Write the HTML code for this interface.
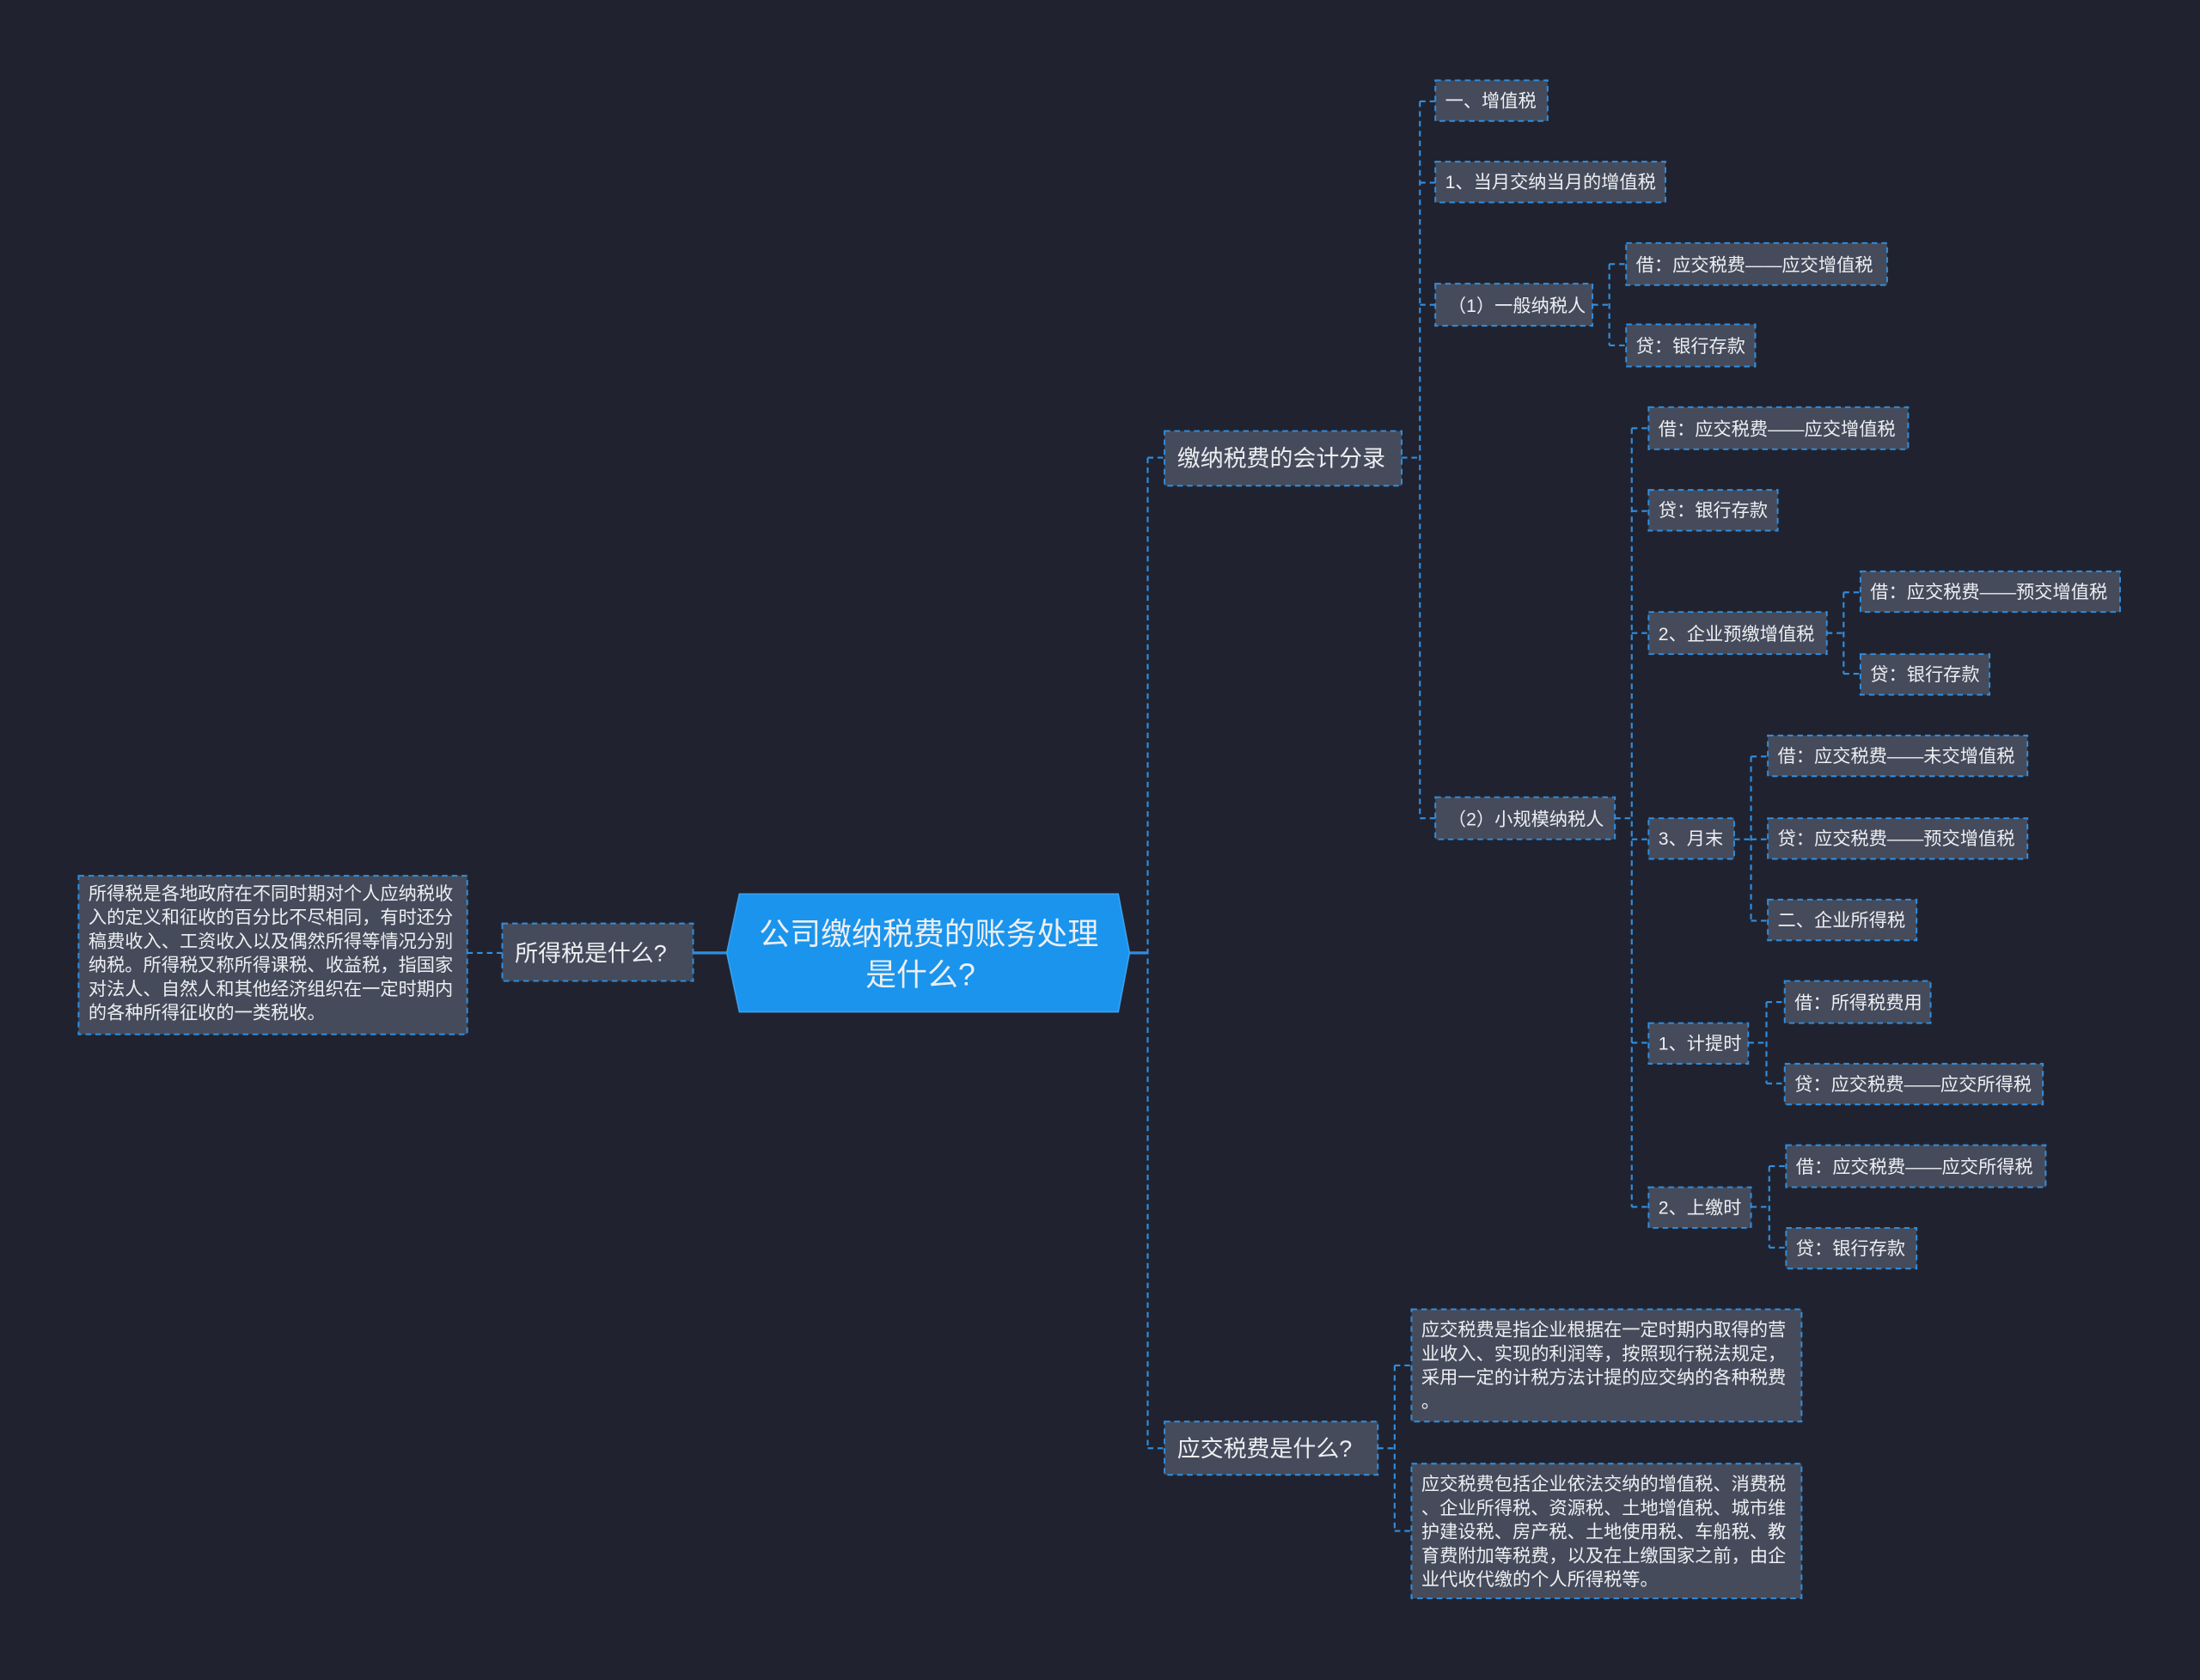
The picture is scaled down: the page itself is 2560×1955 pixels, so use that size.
<!DOCTYPE html>
<html><head><meta charset="utf-8"><style>
html,body{margin:0;padding:0;background:#20232f;}
svg{display:block}
text{font-family:"Liberation Sans","Noto Sans CJK SC",sans-serif;fill:#eceef2;}
.n{fill:#454b5a;stroke:#2f8ee2;stroke-width:1.2;stroke-dasharray:4 3;}
.c{fill:none;stroke:#2f8ee2;stroke-width:1.3;stroke-dasharray:4 3;}
.s{font-size:13px}
.m{font-size:16.5px}
.t{font-size:13px}
</style></head><body>
<svg width="2560" height="1955" viewBox="0 0 1568 1197" xmlns="http://www.w3.org/2000/svg">
<rect width="1568" height="1197" fill="#20232f"/>
<line x1="494" y1="679" x2="518" y2="679" stroke="#2f8ee2" stroke-width="2"/>
<line x1="333" y1="679" x2="358" y2="679" class="c"/>
<line x1="805" y1="679" x2="818" y2="679" stroke="#2f8ee2" stroke-width="2"/>
<path class="c" d="M818 326V1032 M818 326H830 M818 1032H830"/>
<path class="c" d="M999 326H1012 M1012 72V583 M1012 72H1023 M1012 130H1023 M1012 217H1023 M1012 583H1023"/>
<path class="c" d="M1135 217H1147 M1147 188V246 M1147 188H1159 M1147 246H1159"/>
<path class="c" d="M1151 583H1163 M1163 305V860 M1163 305H1175 M1163 364H1175 M1163 451H1175 M1163 598H1175 M1163 743H1175 M1163 860H1175"/>
<path class="c" d="M1302 451H1314 M1314 422V480 M1314 422H1326 M1314 480H1326"/>
<path class="c" d="M1236 598H1248 M1248 539V656 M1248 539H1260 M1248 598H1260 M1248 656H1260"/>
<path class="c" d="M1246 743H1259 M1259 714V772 M1259 714H1272 M1259 772H1272"/>
<path class="c" d="M1248 860H1261 M1261 831V889 M1261 831H1273 M1261 889H1273"/>
<path class="c" d="M982 1032H994 M994 973V1091 M994 973H1006 M994 1091H1006"/>

<polygon points="527,637 797,637 805,679 797,721 527,721 518,679" fill="#1a94ec" stroke="#3aa0f0" stroke-width="1"/>
<text x="662" y="673" text-anchor="middle" style="font-size:22px">公司缴纳税费的账务处理</text>
<text x="656" y="702" text-anchor="middle" style="font-size:22px">是什么?</text>

<rect class="n" x="358" y="658" width="136" height="41"/>
<text class="m" x="367" y="685">所得税是什么?</text>
<rect class="n" x="830" y="307" width="169" height="39"/>
<text class="m" x="839" y="332">缴纳税费的会计分录</text>
<rect class="n" x="830" y="1013" width="152" height="38"/>
<text class="m" x="839" y="1038">应交税费是什么?</text>

<rect class="n" x="56" y="624" width="277" height="113"/>
<text class="t" x="63" y="641">所得税是各地政府在不同时期对个人应纳税收</text>
<text class="t" x="63" y="658">入的定义和征收的百分比不尽相同，有时还分</text>
<text class="t" x="63" y="675">稿费收入、工资收入以及偶然所得等情况分别</text>
<text class="t" x="63" y="692">纳税。所得税又称所得课税、收益税，指国家</text>
<text class="t" x="63" y="709">对法人、自然人和其他经济组织在一定时期内</text>
<text class="t" x="63" y="726">的各种所得征收的一类税收。</text>

<rect class="n" x="1023" y="57" width="80" height="29"/><text class="s" x="1030" y="76">一、增值税</text>
<rect class="n" x="1023" y="115" width="164" height="29"/><text class="s" x="1030" y="134">1、当月交纳当月的增值税</text>
<rect class="n" x="1023" y="202" width="112" height="30"/><text class="s" x="1032" y="222">（1）一般纳税人</text>
<rect class="n" x="1159" y="173" width="186" height="30"/><text class="s" x="1166" y="193">借：应交税费——应交增值税</text>
<rect class="n" x="1159" y="231" width="92" height="30"/><text class="s" x="1166" y="251">贷：银行存款</text>
<rect class="n" x="1023" y="568" width="128" height="30"/><text class="s" x="1032" y="588">（2）小规模纳税人</text>
<rect class="n" x="1175" y="290" width="185" height="30"/><text class="s" x="1182" y="310">借：应交税费——应交增值税</text>
<rect class="n" x="1175" y="349" width="92" height="29"/><text class="s" x="1182" y="368">贷：银行存款</text>
<rect class="n" x="1175" y="436" width="127" height="30"/><text class="s" x="1182" y="456">2、企业预缴增值税</text>
<rect class="n" x="1326" y="407" width="185" height="29"/><text class="s" x="1333" y="426">借：应交税费——预交增值税</text>
<rect class="n" x="1326" y="466" width="92" height="29"/><text class="s" x="1333" y="485">贷：银行存款</text>
<rect class="n" x="1175" y="583" width="61" height="29"/><text class="s" x="1182" y="602">3、月末</text>
<rect class="n" x="1260" y="524" width="185" height="29"/><text class="s" x="1267" y="543">借：应交税费——未交增值税</text>
<rect class="n" x="1260" y="583" width="185" height="29"/><text class="s" x="1267" y="602">贷：应交税费——预交增值税</text>
<rect class="n" x="1260" y="641" width="106" height="29"/><text class="s" x="1267" y="660">二、企业所得税</text>
<rect class="n" x="1175" y="729" width="71" height="29"/><text class="s" x="1182" y="748">1、计提时</text>
<rect class="n" x="1272" y="699" width="104" height="30"/><text class="s" x="1279" y="719">借：所得税费用</text>
<rect class="n" x="1272" y="758" width="184" height="29"/><text class="s" x="1279" y="777">贷：应交税费——应交所得税</text>
<rect class="n" x="1175" y="846" width="73" height="29"/><text class="s" x="1182" y="865">2、上缴时</text>
<rect class="n" x="1273" y="816" width="185" height="30"/><text class="s" x="1280" y="836">借：应交税费——应交所得税</text>
<rect class="n" x="1273" y="875" width="93" height="29"/><text class="s" x="1280" y="894">贷：银行存款</text>

<rect class="n" x="1006" y="933" width="278" height="80"/>
<text class="t" x="1013" y="952">应交税费是指企业根据在一定时期内取得的营</text>
<text class="t" x="1013" y="969">业收入、实现的利润等，按照现行税法规定，</text>
<text class="t" x="1013" y="986">采用一定的计税方法计提的应交纳的各种税费</text>
<text class="t" x="1013" y="1003">。</text>
<rect class="n" x="1006" y="1043" width="278" height="96"/>
<text class="t" x="1013" y="1062">应交税费包括企业依法交纳的增值税、消费税</text>
<text class="t" x="1013" y="1079">、企业所得税、资源税、土地增值税、城市维</text>
<text class="t" x="1013" y="1096">护建设税、房产税、土地使用税、车船税、教</text>
<text class="t" x="1013" y="1113">育费附加等税费，以及在上缴国家之前，由企</text>
<text class="t" x="1013" y="1130">业代收代缴的个人所得税等。</text>
</svg>
</body></html>
